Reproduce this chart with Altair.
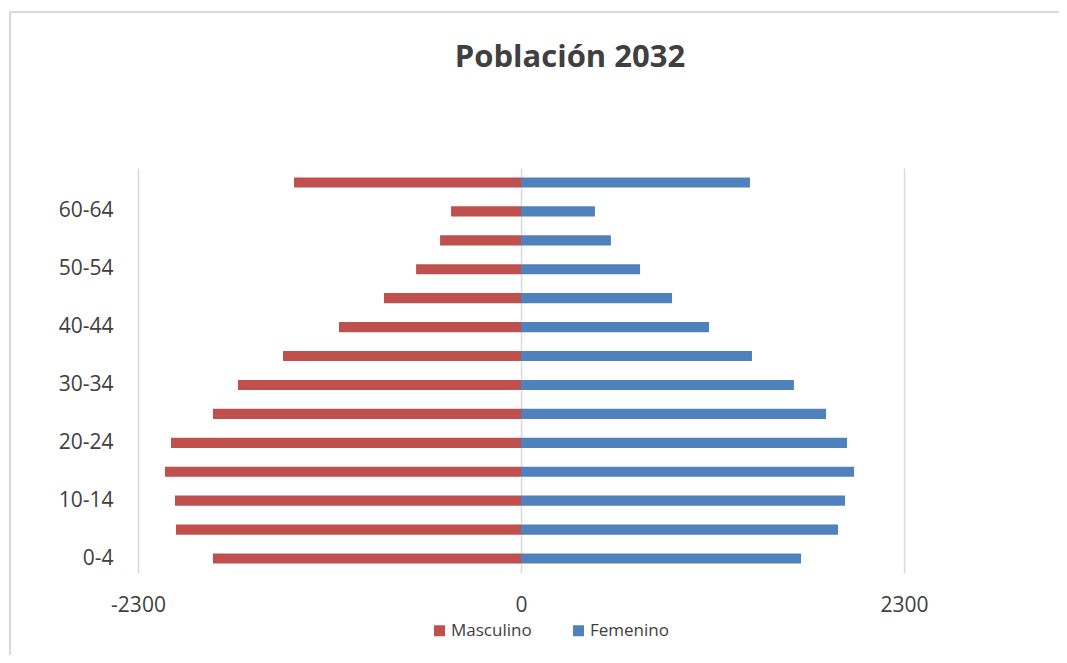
import altair as alt
import pandas as pd

ages = ["65+", "60-64", "55-59", "50-54", "45-49", "40-44", "35-39",
        "30-34", "25-29", "20-24", "15-19", "10-14", "5-9", "0-4"]
masculino = [1363, 420, 486, 630, 823, 1093, 1429, 1700, 1850, 2102, 2138, 2078, 2072, 1850]
femenino = [1375, 444, 540, 715, 907, 1129, 1387, 1639, 1832, 1958, 2000, 1946, 1904, 1682]
axis_ages = ["0-4", "10-14", "20-24", "30-34", "40-44", "50-54", "60-64"]
x_ticks = [-2300, 0, 2300]
titulo = "Población 2032"

rows = []
for a, m, f in zip(ages, masculino, femenino):
    rows.append({"edad": a, "sexo": "Masculino", "valor": -m})
    rows.append({"edad": a, "sexo": "Femenino", "valor": f})
df = pd.DataFrame(rows)

FONT = "Open Sans"
TXT = "#404040"

bars = alt.Chart(df).mark_bar().encode(
    x=alt.X("valor:Q",
            scale=alt.Scale(domain=[-2300, 2300], nice=False, zero=False),
            axis=alt.Axis(values=x_ticks, title=None, domain=False, ticks=False,
                          grid=True, gridColor="#d9d9d9", gridWidth=1.5,
                          labelExpr="'' + datum.value", labelFont=FONT,
                          labelFontSize=21, labelColor=TXT, labelPadding=21,
                          labelFlush=False)),
    y=alt.Y("edad:N", sort=ages,
            scale=alt.Scale(paddingInner=0.65, paddingOuter=0.325),
            axis=alt.Axis(values=axis_ages, title=None, domain=False, ticks=False,
                          grid=False, labelFont=FONT, labelFontSize=21,
                          labelColor=TXT, labelPadding=25)),
    color=alt.Color("sexo:N",
                    scale=alt.Scale(domain=["Masculino", "Femenino"],
                                    range=["#C0504D", "#4F81BD"]),
                    legend=alt.Legend(title=None, orient="none", direction="horizontal",
                                      legendX=293, legendY=454, symbolType="square",
                                      symbolSize=120, symbolStrokeWidth=0,
                                      labelFont=FONT, labelFontSize=17,
                                      labelColor=TXT, columnPadding=38,
                                      labelOffset=3)),
)

one = pd.DataFrame({"t": [titulo]})
border_top = alt.Chart(one).mark_rule(
    color="#d9d9d9", strokeWidth=2).encode(
    x=alt.value(-128), x2=alt.value(940), y=alt.value(-156))
border_left = alt.Chart(one).mark_rule(
    color="#d9d9d9", strokeWidth=2).encode(
    x=alt.value(-128), y=alt.value(-156), y2=alt.value(500))
title_text = alt.Chart(one).mark_text(
    font=FONT, fontSize=31, fontWeight="bold", color=TXT,
    align="center", baseline="middle").encode(
    text="t:N", x=alt.value(432), y=alt.value(-110))

chart = alt.layer(border_top, border_left, title_text, bars).properties(
    width=766, height=405,
    background="white",
    autosize=alt.AutoSizeParams(type="none"),
    padding={"left": 130, "top": 160, "right": 155, "bottom": 82},
).configure_view(strokeWidth=0, stroke="transparent")

chart.save("out.html", embed_options={"renderer": "svg", "actions": False})
